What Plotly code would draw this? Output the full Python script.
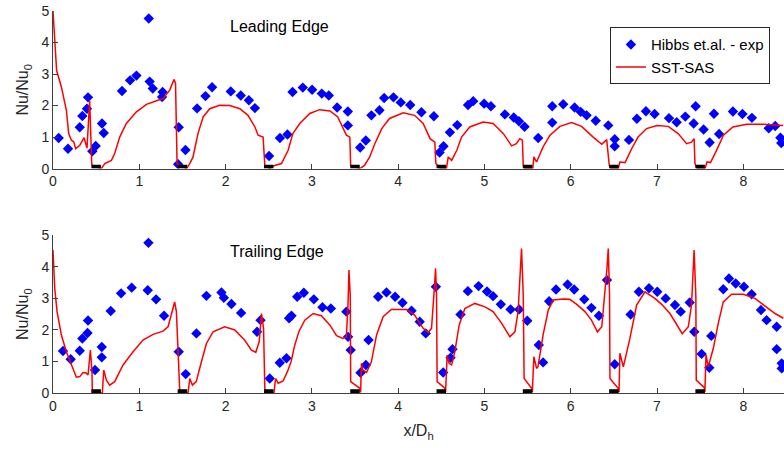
import plotly.graph_objects as go

# ---------------- data ----------------
le_exp_x = [0.066, 0.174, 0.31, 0.34, 0.394, 0.406, 0.456, 0.495, 0.568, 0.588, 0.80, 0.893, 0.967, 1.11, 1.12,
            1.156, 1.27, 1.264, 1.457, 1.45, 1.535, 1.67, 1.767, 1.844, 2.06, 2.176, 2.27, 2.34, 2.504, 2.63,
            2.717, 2.776, 2.895, 3.003, 3.115, 3.196, 3.293, 3.417, 3.417, 3.56, 3.625, 3.69, 3.784, 3.838, 3.946,
            4.03, 4.14, 4.27, 4.414, 4.48, 4.526, 4.6, 4.685, 4.81, 4.87, 4.997, 5.075, 5.237, 5.34, 5.40,
            5.465, 5.623, 5.786, 5.786, 5.913, 6.045, 6.115, 6.184, 6.29, 6.435, 6.51, 6.51, 6.675, 6.767, 6.872,
            6.972, 7.139, 7.228, 7.328, 7.448, 7.425, 7.54, 7.61, 7.66, 7.72, 7.88, 7.99, 8.10, 8.295, 8.37,
            8.43, 8.44]
le_exp_y = [0.97, 0.63, 1.31, 1.67, 1.90, 2.26, 0.55, 0.72, 1.43, 1.13, 2.46, 2.80, 2.95, 4.76, 2.76,
            2.54, 2.43, 2.27, 1.31, 0.14, 0.59, 1.91, 2.30, 2.58, 2.45, 2.32, 2.17, 1.92, 0.40, 0.97,
            1.08, 2.43, 2.57, 2.50, 2.38, 2.32, 1.94, 1.81, 1.37, 0.67, 0.89, 1.69, 1.85, 2.24, 2.26,
            2.10, 2.02, 1.79, 1.66, 0.51, 0.71, 1.15, 1.38, 2.02, 2.14, 2.06, 1.98, 1.72, 1.62, 1.50,
            1.33, 0.97, 1.98, 1.46, 2.04, 1.94, 1.80, 1.69, 1.52, 1.37, 0.93, 0.71, 0.91, 1.58, 1.82,
            1.73, 1.60, 1.47, 1.65, 1.98, 1.43, 1.24, 0.83, 1.74, 1.10, 1.81, 1.73, 1.61, 1.28, 1.35,
            0.98, 0.81]

le_sim_x = [0, 0.042, 0.097, 0.155, 0.182, 0.213, 0.24, 0.263, 0.31, 0.36, 0.394, 0.425, 0.449, 0.46, 0.56,
            0.6, 0.677, 0.715, 0.773, 0.85, 0.967, 1.083, 1.2, 1.275, 1.353, 1.403, 1.42, 1.438, 1.47, 1.547,
            1.585, 1.623, 1.68, 1.74, 1.817, 1.93, 2.05, 2.165, 2.26, 2.34, 2.377, 2.435, 2.455, 2.51, 2.57,
            2.648, 2.725, 2.78, 2.86, 2.976, 3.09, 3.21, 3.30, 3.36, 3.40, 3.44, 3.45, 3.556, 3.61, 3.67,
            3.73, 3.81, 3.90, 4.06, 4.19, 4.29, 4.37, 4.425, 4.437, 4.49, 4.56, 4.58, 4.62, 4.68, 4.735,
            4.83, 4.985, 5.10, 5.22, 5.315, 5.37, 5.41, 5.44, 5.45, 5.47, 5.56, 5.573, 5.604, 5.68, 5.76,
            5.875, 6.01, 6.126, 6.26, 6.36, 6.417, 6.447, 6.47, 6.55, 6.57, 6.63, 6.706, 6.78, 6.88, 7.0,
            7.13, 7.245, 7.343, 7.40, 7.43, 7.44, 7.47, 7.556, 7.58, 7.62, 7.69, 7.77, 7.88, 8.04, 8.23, 8.46]
le_sim_y = [5.0, 3.11, 2.59, 1.85, 1.11, 0.90, 0.85, 0.63, 0.74, 0.98, 0.65, 2.15, 0.16, 0.08, 0.0,
            0.16, 0.26, 0.48, 1.0, 1.43, 1.80, 2.04, 2.15, 2.22, 2.49, 2.83, 2.7, 0.16, 0.1, 0.0,
            0.16, 0.37, 1.11, 1.64, 1.90, 2.01, 2.0, 1.90, 1.69, 1.32, 1.06, 1.0, 0.1, 0.0, 0.1,
            0.16, 0.58, 1.11, 1.43, 1.75, 1.87, 1.83, 1.64, 1.27, 1.06, 1.0, 0.1, 0.0, 0.1, 0.37,
            0.79, 1.27, 1.59, 1.77, 1.69, 1.43, 0.95, 0.84, 0.16, 0.0, 0.0, 0.37, 0.26, 0.58, 1.0,
            1.32, 1.48, 1.43, 1.11, 0.72, 0.79, 0.95, 0.9, 0.1, 0.0, 0.0, 0.37, 0.21, 0.69, 1.06,
            1.34, 1.46, 1.34, 1.0, 0.77, 0.92, 0.1, 0.0, 0.0, 0.21, 0.19, 0.63, 1.0, 1.27, 1.37,
            1.34, 1.11, 0.79, 0.84, 0.95, 0.16, 0.0, 0.0, 0.21, 0.19, 0.58, 1.06, 1.32, 1.41, 1.41, 1.37]

te_exp_x = [0.116, 0.205, 0.31, 0.34, 0.40, 0.406, 0.487, 0.565, 0.565, 0.669, 0.789, 0.912, 1.106, 1.098, 1.195,
            1.287, 1.457, 1.538, 1.662, 1.778, 1.952, 1.98, 2.068, 2.18, 2.365, 2.405, 2.512, 2.628, 2.706, 2.736,
            2.764, 2.83, 2.907, 3.023, 3.123, 3.22, 3.40, 3.42, 3.45, 3.564, 3.626, 3.657, 3.768, 3.865, 3.965,
            4.05, 4.155, 4.25, 4.32, 4.437, 4.522, 4.607, 4.63, 4.723, 4.808, 4.932, 5.03, 5.10, 5.19, 5.303,
            5.403, 5.496, 5.63, 5.68, 5.75, 5.83, 5.964, 6.04, 6.157, 6.24, 6.327, 6.42, 6.51, 6.694, 6.79,
            6.907, 7.003, 7.10, 7.208, 7.274, 7.379, 7.432, 7.517, 7.606, 7.629, 7.768, 7.834, 7.912, 8.008, 8.097,
            8.205, 8.27, 8.387, 8.387, 8.445, 8.445]
te_exp_y = [1.33, 1.07, 1.34, 1.73, 1.90, 2.30, 0.73, 1.46, 1.13, 2.60, 3.16, 3.34, 4.76, 3.26, 2.97,
            2.45, 1.31, 0.60, 1.89, 3.08, 3.19, 3.02, 2.82, 2.54, 1.94, 2.31, 0.46, 0.96, 1.10, 2.37,
            2.45, 3.05, 3.18, 2.97, 2.72, 2.68, 2.58, 1.78, 1.36, 0.64, 0.89, 1.68, 3.05, 3.19, 3.05,
            2.86, 2.61, 2.26, 1.89, 3.37, 0.65, 1.12, 1.39, 2.49, 3.23, 3.39, 3.22, 3.07, 2.81, 2.65,
            2.65, 2.29, 1.52, 0.97, 2.91, 3.28, 3.44, 3.28, 2.97, 2.70, 2.45, 3.58, 0.91, 2.49, 3.21,
            3.32, 3.21, 3.0, 2.79, 2.58, 2.87, 1.94, 1.24, 0.80, 1.81, 3.29, 3.63, 3.47, 3.37, 3.13,
            2.63, 2.31, 2.10, 1.39, 0.94, 0.78]

te_sim_x = [0, 0.02, 0.047, 0.097, 0.155, 0.213, 0.271, 0.31, 0.348, 0.38, 0.406, 0.433, 0.452, 0.456, 0.572,
            0.588, 0.619, 0.657, 0.715, 0.812, 0.928, 1.043, 1.16, 1.275, 1.333, 1.39, 1.41, 1.43, 1.46, 1.47,
            1.565, 1.585, 1.616, 1.66, 1.72, 1.778, 1.855, 1.99, 2.107, 2.22, 2.30, 2.35, 2.39, 2.416, 2.44,
            2.455, 2.47, 2.56, 2.58, 2.61, 2.667, 2.72, 2.76, 2.80, 2.85, 2.918, 3.015, 3.11, 3.21, 3.286,
            3.36, 3.40, 3.42, 3.43, 3.445, 3.45, 3.556, 3.565, 3.575, 3.59, 3.634, 3.69, 3.75, 3.826, 3.92,
            4.10, 4.19, 4.29, 4.348, 4.387, 4.414, 4.434, 4.445, 4.452, 4.541, 4.55, 4.568, 4.59, 4.62, 4.657,
            4.707, 4.773, 4.889, 5.005, 5.10, 5.20, 5.295, 5.353, 5.39, 5.42, 5.43, 5.45, 5.46, 5.547, 5.555,
            5.573, 5.604, 5.62, 5.68, 5.74, 5.797, 5.913, 5.99, 6.07, 6.165, 6.24, 6.31, 6.36, 6.396, 6.42,
            6.435, 6.45, 6.455, 6.55, 6.56, 6.57, 6.61, 6.686, 6.764, 6.86, 6.976, 7.054, 7.15, 7.228, 7.293,
            7.363, 7.40, 7.43, 7.45, 7.455, 7.548, 7.555, 7.568, 7.594, 7.652, 7.71, 7.768, 7.865, 8.0, 8.135,
            8.25, 8.368, 8.464]
te_sim_y = [4.53, 3.32, 2.58, 1.84, 1.31, 0.89, 0.50, 0.52, 0.65, 0.64, 0.57, 1.36, 0.68, 0.0, 0.0,
            0.73, 0.41, 0.25, 0.36, 0.89, 1.31, 1.68, 1.86, 1.96, 2.10, 2.68, 2.89, 2.58, 0.15, 0.0,
            0.0, 0.46, 0.25, 0.36, 0.99, 1.57, 1.94, 2.10, 2.0, 1.68, 1.36, 1.29, 1.63, 2.52, 2.05,
            0.15, 0.0, 0.0, 0.46, 0.31, 0.38, 0.70, 1.0, 1.5, 1.95, 2.31, 2.52, 2.45, 2.15, 1.82,
            1.73, 1.78, 2.89, 3.90, 3.1, 0.36, 0.15, 0.02, 0.94, 0.73, 0.65, 0.99, 1.84, 2.42, 2.65,
            2.65, 2.47, 2.05, 1.92, 2.05, 3.10, 3.95, 3.1, 0.36, 0.15, 0.03, 1.20, 0.94, 0.89, 1.31,
            2.15, 2.68, 2.84, 2.73, 2.58, 2.21, 1.78, 1.94, 2.58, 3.95, 4.58, 3.1, 0.46, 0.15, 0.03,
            1.15, 0.78, 0.83, 1.84, 2.63, 2.95, 2.98, 2.97, 2.81, 2.58, 2.31, 1.94, 2.10, 3.10, 3.95,
            4.58, 3.1, 0.46, 0.15, 0.03, 1.26, 0.83, 1.73, 2.79, 3.21, 3.0, 2.81, 2.52, 2.15, 1.88,
            2.10, 2.79, 4.53, 3.1, 0.41, 0.17, 0.03, 1.22, 0.83, 1.41, 2.21, 2.89, 3.13, 3.13, 3.0,
            2.77, 2.52, 2.37]

rib_centers = [0.5, 1.5, 2.5, 3.5, 4.5, 5.5, 6.5, 7.5]
x_ticks = [0, 1, 2, 3, 4, 5, 6, 7, 8]
y_ticks = [0, 1, 2, 3, 4, 5]
panel_titles = ["Leading Edge", "Trailing Edge"]

# ---------------- figure ----------------
FONT = "Liberation Sans, Arial, sans-serif"
AX = "#404040"
BLUE = "#0000FF"
RED = "#FF0000"

W, H = 784, 451
ML, MR, MT, MB = 53.3, 0, 10.7, 58.3
PH = H - MT - MB  # plot area height
PW = W - ML - MR

fig = go.Figure()

marker = dict(symbol="diamond", size=8, color=BLUE, line=dict(width=0))
fig.add_trace(go.Scatter(x=le_exp_x, y=le_exp_y, mode="markers", marker=marker,
                         name="Hibbs et.al. - exp", xaxis="x", yaxis="y", legendrank=1))
fig.add_trace(go.Scatter(x=le_sim_x, y=le_sim_y, mode="lines", line=dict(color=RED, width=1.5),
                         name="SST-SAS", xaxis="x", yaxis="y", legendrank=2))
fig.add_trace(go.Scatter(x=te_exp_x, y=te_exp_y, mode="markers", marker=marker,
                         name="Hibbs et.al. - exp", xaxis="x2", yaxis="y2", showlegend=False))
fig.add_trace(go.Scatter(x=te_sim_x, y=te_sim_y, mode="lines", line=dict(color=RED, width=1.5),
                         name="SST-SAS", xaxis="x2", yaxis="y2", showlegend=False))

shapes = []
for xr, yr in (("x", "y"), ("x2", "y2")):
    for c in rib_centers:
        shapes.append(dict(type="rect", xref=xr, yref=yr, x0=c - 0.055, x1=c + 0.055, y0=0, y1=0.12,
                           fillcolor="black", line=dict(width=0), layer="above"))

xrange_ = [0, PW / 86.25]
top_dom = [(392.7 - 168.3) / PH, 1.0]
bot_dom = [0.0, (392.7 - 235.0) / PH]

axis_common = dict(showline=True, linecolor=AX, linewidth=1, ticks="inside", ticklen=5,
                   tickcolor=AX, tickwidth=1, showgrid=False, zeroline=False, mirror=False,
                   automargin=False,
                   tickfont=dict(family=FONT, size=14, color="#262626"))

ytitle = dict(text="Nu/Nu<sub>0</sub>", font=dict(family=FONT, size=16, color="#262626"), standoff=8)

fig.update_layout(
    width=W, height=H,
    margin=dict(l=ML, r=MR, t=MT, b=MB, pad=0, autoexpand=False),
    paper_bgcolor="white", plot_bgcolor="white",
    font=dict(family=FONT, color="#262626"),
    shapes=shapes,
    xaxis=dict(domain=[0, 1], range=xrange_, tickvals=x_ticks, anchor="y", **axis_common),
    yaxis=dict(domain=top_dom, range=[0, 5], tickvals=y_ticks, anchor="x", title=ytitle, **axis_common),
    xaxis2=dict(domain=[0, 1], range=xrange_, tickvals=x_ticks, anchor="y2",
                title=dict(text="x/D<sub>h</sub>", font=dict(family=FONT, size=16, color="#262626"), standoff=12),
                **axis_common),
    yaxis2=dict(domain=bot_dom, range=[0, 5], tickvals=y_ticks, anchor="x2", title=ytitle, **axis_common),
    legend=dict(x=(610 - ML) / PW, y=(392.7 - 27) / PH, xanchor="left", yanchor="top",
                bgcolor="white", bordercolor="#262626", borderwidth=1,
                font=dict(family=FONT, size=15, color="black"), itemwidth=30,
                tracegroupgap=0, traceorder="normal"),
    annotations=[
        dict(x=2.03, y=4.5, xref="x", yref="y", text=panel_titles[0], showarrow=False,
             xanchor="left", yanchor="middle", font=dict(family=FONT, size=16, color="black")),
        dict(x=2.03, y=4.5, xref="x2", yref="y2", text=panel_titles[1], showarrow=False,
             xanchor="left", yanchor="middle", font=dict(family=FONT, size=16, color="black")),
    ],
)

fig.write_html("out.html", config={"displayModeBar": False},
               post_script="document.body.style.margin='0px';document.body.style.overflow='hidden';")
